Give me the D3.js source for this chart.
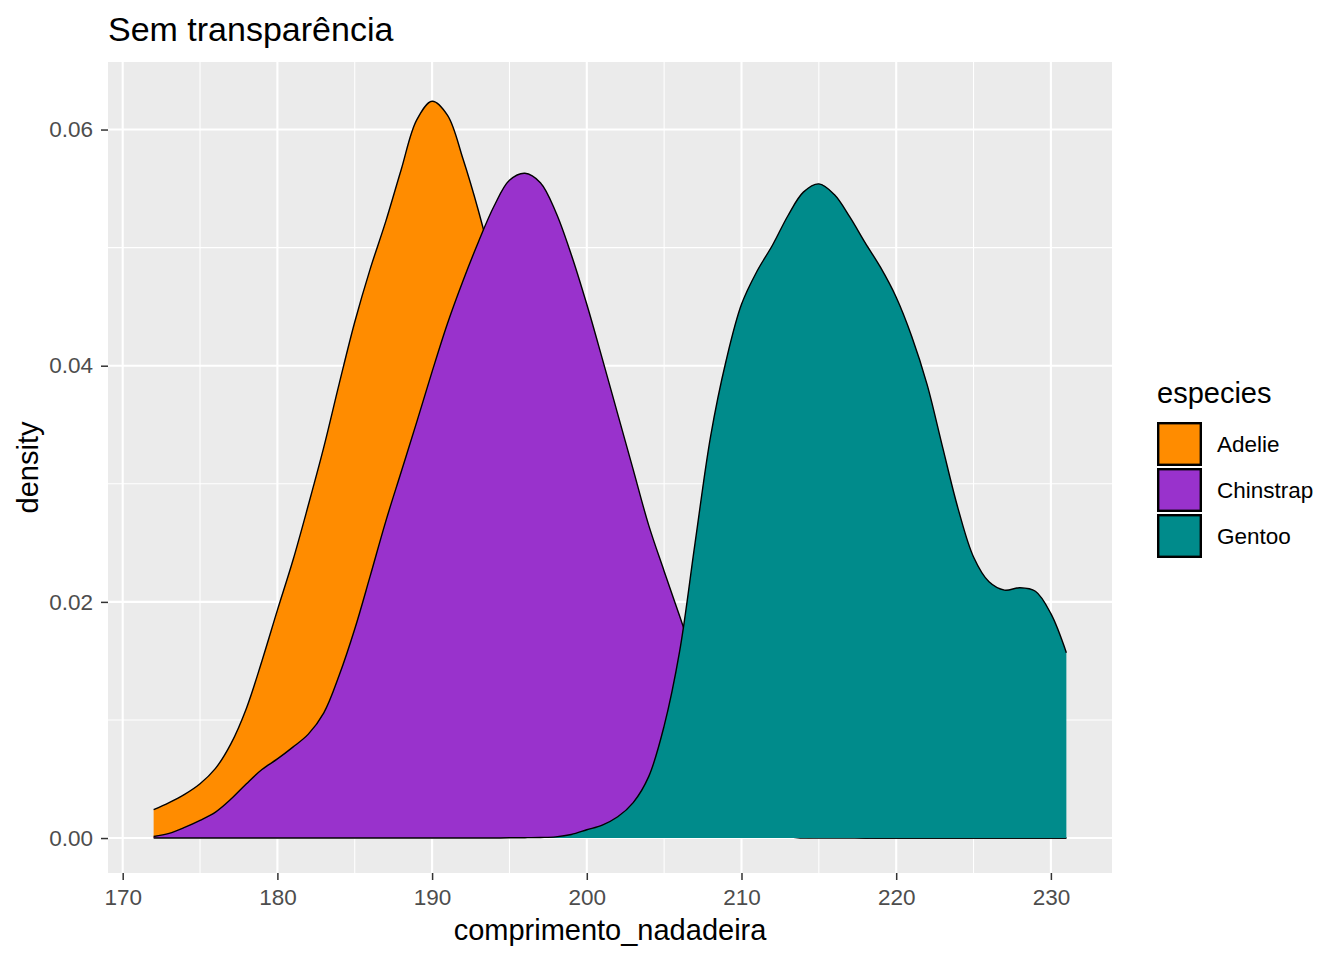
<!DOCTYPE html>
<html>
<head>
<meta charset="utf-8">
<script src="https://cdn.jsdelivr.net/npm/d3@7"></script>
<style>
  body { margin: 0; background: #fff; }
  text { font-family: "Liberation Sans", Arial, sans-serif; }
</style>
</head>
<body>
<div id="chart"></div>
<script>
const flipper = [172,173,174,175,176,177,178,179,180,181,182,183,184,185,186,187,188,189,190,191,
                 192,193,194,195,196,197,198,199,200,201,202,203,204,205,206,207,208,209,210,211,
                 212,213,214,215,216,217,218,219,220,221,222,223,224,225,226,227,228,229,230,231];
const adelie = [0.0024,0.0030,0.0037,0.0046,0.0059,0.0080,0.0110,0.0150,0.0193,0.0235,
                0.0282,0.0331,0.0385,0.0437,0.0482,0.0522,0.0566,0.0608,0.0624,0.0612,
                0.0575,0.0531,0.0480,0.0420,0.0355,0.0290,0.0228,0.0172,0.0125,0.0088,
                0.0060,0.0040,0.0026,0.0017,0.0011,0.0007,0.0004,0.0003,0.0002,0.0001,
                0.0001,0.0001,0,0,0,0,0,0,0,0,
                0,0,0,0,0,0,0,0,0,0];
const chinstrap = [0.00013,0.0004,0.0009,0.0015,0.0022,0.0033,0.0046,0.0058,0.0067,0.0077,
                   0.0088,0.0106,0.0138,0.0177,0.0222,0.0268,0.0310,0.0352,0.0395,0.0436,
                   0.0472,0.0505,0.0535,0.0557,0.0563,0.0555,0.0530,0.0494,0.0452,0.0406,
                   0.0359,0.0312,0.0265,0.0226,0.0188,0.0150,0.0115,0.0085,0.0058,0.0038,
                   0.0023,0.0013,0.0007,0.0004,0.0002,0.0001,0,0,0,0,
                   0,0,0,0,0,0,0,0,0,0];
const gentoo = [0,0,0,0,0,0,0,0,0,0,
                0,0,0,0,0,0,0,0,0,0,
                0,0,0,0.00002,0.00003,0.00005,0.0001,0.0003,0.0007,0.0011,
                0.0018,0.0030,0.0052,0.0095,0.0158,0.0250,0.0340,0.0404,0.0452,0.0480,
                0.0502,0.0527,0.0547,0.0554,0.0545,0.0526,0.0504,0.0483,0.0458,0.0425,
                0.0384,0.0331,0.0279,0.0238,0.0217,0.0210,0.0212,0.0209,0.0190,0.0157];

const species = ["Adelie", "Chinstrap", "Gentoo"];
const speciesColors = ["#FF8C00", "#9932CC", "#008B8B"];
const xTicks = [170, 180, 190, 200, 210, 220, 230];
const xMinor = [175, 185, 195, 205, 215, 225];
const yTicks = [0, 0.02, 0.04, 0.06];
const yMinor = [0.01, 0.03, 0.05];
const yLimits = [-0.00296, 0.06572];

const series = [adelie, chinstrap, gentoo].map((vals, i) => ({
    name: species[i],
    color: speciesColors[i],
    values: flipper.map((f, j) => ({ x: f, y: vals[j] }))
}));

const W = 1344, H = 960;
const panel = { left: 108, right: 1112, top: 62, bottom: 873 };

const svg = d3.select("#chart").append("svg")
    .attr("width", W)
    .attr("height", H);

const xExt = d3.extent(flipper);
const xPad = (xExt[1] - xExt[0]) * 0.05;
const xScale = d3.scaleLinear()
    .domain([xExt[0] - xPad, xExt[1] + xPad])
    .range([panel.left, panel.right]);

const yScale = d3.scaleLinear()
    .domain(yLimits)
    .range([panel.bottom, panel.top]);

// panel background + grid
svg.append("rect")
    .attr("x", panel.left).attr("y", panel.top)
    .attr("width", panel.right - panel.left)
    .attr("height", panel.bottom - panel.top)
    .attr("fill", "#EBEBEB");

const grid = svg.append("g");
grid.selectAll(".ymin").data(yMinor).enter().append("line")
    .attr("x1", panel.left).attr("x2", panel.right)
    .attr("y1", d => yScale(d)).attr("y2", d => yScale(d))
    .attr("stroke", "#fff").attr("stroke-width", 1.05);
grid.selectAll(".xmin").data(xMinor).enter().append("line")
    .attr("y1", panel.top).attr("y2", panel.bottom)
    .attr("x1", d => xScale(d)).attr("x2", d => xScale(d))
    .attr("stroke", "#fff").attr("stroke-width", 1.05);
grid.selectAll(".ymaj").data(yTicks).enter().append("line")
    .attr("x1", panel.left).attr("x2", panel.right)
    .attr("y1", d => yScale(d)).attr("y2", d => yScale(d))
    .attr("stroke", "#fff").attr("stroke-width", 2.1);
grid.selectAll(".xmaj").data(xTicks).enter().append("line")
    .attr("y1", panel.top).attr("y2", panel.bottom)
    .attr("x1", d => xScale(d)).attr("x2", d => xScale(d))
    .attr("stroke", "#fff").attr("stroke-width", 2.1);

// densities, no transparency: each group fill then its upper line
const curve = d3.curveCatmullRom.alpha(0.5);
const area = d3.area()
    .x(d => xScale(d.x))
    .y0(yScale(0))
    .y1(d => yScale(d.y))
    .curve(curve);
const line = d3.line()
    .x(d => xScale(d.x))
    .y(d => yScale(d.y))
    .curve(curve);

series.forEach(s => {
    svg.append("path")
        .datum(s.values)
        .attr("d", area)
        .attr("fill", s.color);
    svg.append("path")
        .datum(s.values)
        .attr("d", line)
        .attr("fill", "none")
        .attr("stroke", "#000")
        .attr("stroke-width", 1.4);
});

// axes
const xAxis = d3.axisBottom(xScale).tickValues(xTicks).tickSize(7).tickPadding(9)
    .tickFormat(d3.format("d"));
const gx = svg.append("g")
    .attr("transform", `translate(0,${panel.bottom})`)
    .call(xAxis);

const yAxis = d3.axisLeft(yScale).tickValues(yTicks).tickSize(7).tickPadding(8)
    .tickFormat(d3.format(".2f"));
const gy = svg.append("g")
    .attr("transform", `translate(${panel.left},0)`)
    .call(yAxis);

[gx, gy].forEach(g => {
    g.select(".domain").remove();
    g.selectAll(".tick line").attr("stroke", "#333333").attr("stroke-width", 1.5);
    g.selectAll(".tick text")
        .attr("fill", "#4D4D4D")
        .style("font-size", "22.5px")
        .style("font-family", "'Liberation Sans', Arial, sans-serif");
});

svg.append("text")
    .attr("x", (panel.left + panel.right) / 2)
    .attr("y", 940)
    .attr("text-anchor", "middle")
    .style("font-size", "29px")
    .text("comprimento_nadadeira");

svg.append("text")
    .attr("transform", `translate(38,${(panel.top + panel.bottom) / 2}) rotate(-90)`)
    .attr("text-anchor", "middle")
    .style("font-size", "29px")
    .text("density");

svg.append("text")
    .attr("x", panel.left)
    .attr("y", 41)
    .style("font-size", "34px")
    .text("Sem transparência");

// legend
const legend = svg.append("g").attr("transform", "translate(1157,0)");
legend.append("text")
    .attr("x", 0).attr("y", 403)
    .style("font-size", "29px")
    .text("especies");

const keys = legend.selectAll(".key").data(series).enter().append("g")
    .attr("transform", (d, i) => `translate(0,${422 + i * 46})`);
keys.append("rect")
    .attr("x", 1.2).attr("y", 1.2)
    .attr("width", 42.6).attr("height", 41.6)
    .attr("fill", d => d.color)
    .attr("stroke", "#000")
    .attr("stroke-width", 2.4);
keys.append("text")
    .attr("x", 60).attr("y", 22)
    .attr("dy", "0.35em")
    .style("font-size", "22.5px")
    .text(d => d.name);
</script>
</body>
</html>
